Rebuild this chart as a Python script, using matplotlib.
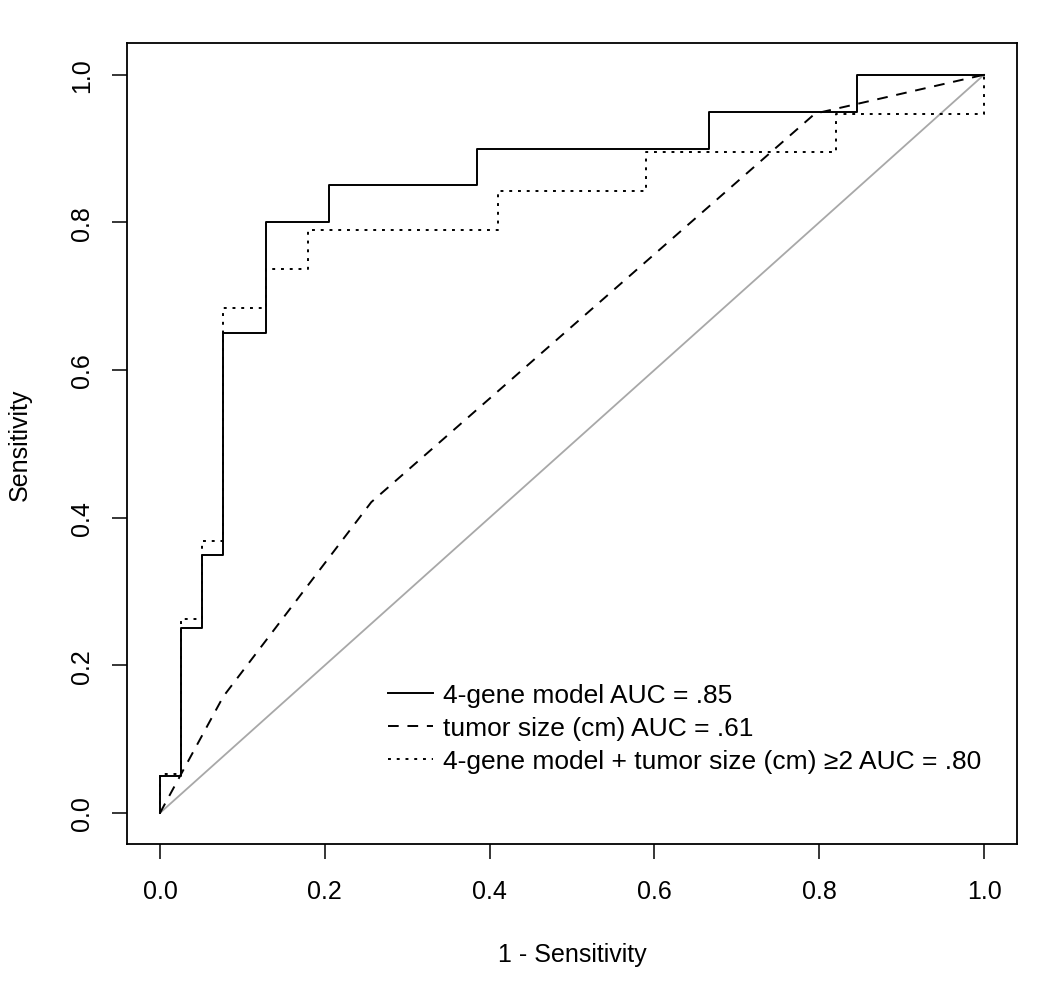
import matplotlib
matplotlib.use("Agg")
import matplotlib.pyplot as plt

plt.rcParams['font.family'] = ['Liberation Sans', 'DejaVu Sans']

# 4-gene model ROC (step curve)
gene_fpr  = [0, 0, 1/39, 1/39, 2/39, 2/39, 3/39, 3/39, 5/39, 5/39, 8/39, 8/39,
             15/39, 15/39, 26/39, 26/39, 33/39, 33/39, 1.0]
gene_tpr  = [0, 0.05, 0.05, 0.25, 0.25, 0.35, 0.35, 0.65, 0.65, 0.80, 0.80, 0.85,
             0.85, 0.90, 0.90, 0.95, 0.95, 1.0, 1.0]

# tumor size (cm) ROC
size_fpr  = [0, 1/39, 3/39, 10/39, 31/39, 1.0]
size_tpr  = [0, 1/19, 3/19, 8/19, 18/19, 1.0]

# combined model ROC (step curve)
comb_fpr  = [0, 0, 1/39, 1/39, 2/39, 2/39, 3/39, 3/39, 5/39, 5/39, 7/39, 7/39,
             16/39, 16/39, 23/39, 23/39, 32/39, 32/39, 1.0, 1.0]
comb_tpr  = [0, 1/19, 1/19, 5/19, 5/19, 7/19, 7/19, 13/19, 13/19, 14/19, 14/19, 15/19,
             15/19, 16/19, 16/19, 17/19, 17/19, 18/19, 18/19, 1.0]

labels = ["4-gene model AUC = .85",
          "tumor size (cm) AUC = .61",
          "4-gene model + tumor size (cm) \u22652 AUC = .80"]
ticks = [0.0, 0.2, 0.4, 0.6, 0.8, 1.0]
tick_labels = ["0.0", "0.2", "0.4", "0.6", "0.8", "1.0"]

fig = plt.figure(figsize=(10.5, 9.95), dpi=100)
ax = fig.add_axes([127/1050, (995-845)/995, 890/1050, 801/995])

ax.plot([0, 1], [0, 1], color='#a8a8a8', lw=1.3)
ax.plot(gene_fpr, gene_tpr, color='black', lw=1.4, label=labels[0])
ax.plot(size_fpr, size_tpr, color='black', lw=1.4, dashes=(5.5, 4.5), label=labels[1])
ax.plot(comb_fpr, comb_tpr, color='black', lw=1.4, dashes=(1.5, 3.0), label=labels[2])

ax.set_xlim(-0.04, 1.04)
ax.set_ylim(-0.042, 1.043)
ax.set_xticks(ticks)
ax.set_xticklabels(tick_labels)
ax.set_yticks(ticks)
ax.set_yticklabels(tick_labels, rotation=90, va='center')
ax.tick_params(direction='out', length=10.5, width=1.1, labelsize=18)
ax.tick_params(axis='x', pad=15)
ax.tick_params(axis='y', pad=13)
for s in ax.spines.values():
    s.set_linewidth(1.3)

ax.set_xlabel("1 - Sensitivity", fontsize=18, labelpad=28)
ax.set_ylabel("Sensitivity", fontsize=18, labelpad=28)

leg = ax.legend(loc='upper left', bbox_to_anchor=(0.293, 0.201), frameon=False,
                fontsize=19, handlelength=1.7, handletextpad=0.4, labelspacing=0.34,
                borderaxespad=0, borderpad=0)

fig.savefig("out.png", dpi=100, facecolor='white')
